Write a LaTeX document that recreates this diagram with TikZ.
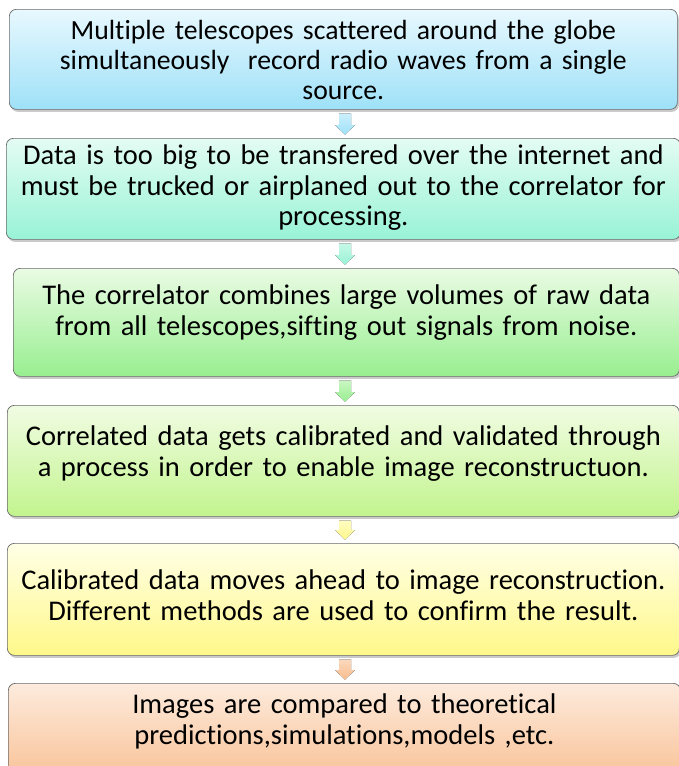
\documentclass[tikz,border=0pt]{standalone}
\usepackage{fontspec}
\setmainfont{Carlito}[Ligatures={NoCommon}]
\usetikzlibrary{calc,shadows}
\definecolor{bAt}{HTML}{E8F8FE}\definecolor{bAb}{HTML}{9EE1F8}
\definecolor{bBt}{HTML}{E4FCF3}\definecolor{bBb}{HTML}{98F3D6}
\definecolor{bCt}{HTML}{EAFBE4}\definecolor{bCb}{HTML}{98EF90}
\definecolor{bDt}{HTML}{F1FCE3}\definecolor{bDb}{HTML}{C2F48E}
\definecolor{bEt}{HTML}{FFFFE6}\definecolor{bEb}{HTML}{FFF88A}
\definecolor{bFt}{HTML}{FDEBDD}\definecolor{bFb}{HTML}{F8BC8C}
\definecolor{edge}{HTML}{6A6A6A}
\tikzset{
  stepbox/.style={draw=edge, line width=0.7pt, rounded corners=7pt,
    anchor=north west, inner sep=0pt,
    drop shadow={shadow xshift=1.5pt, shadow yshift=-2.5pt, opacity=0.35, fill=black!60}},
  steptext/.style={anchor=north, align=center, inner sep=0pt, text width=670,
    font=\fontsize{28.5}{30.5}\selectfont},
}
\newcommand\blockarrow[4]{%
  \fill[top color=#3, bottom color=#4]
    ($(#1)+(-6pt,-4pt)$) -- ($(#1)+(6pt,-4pt)$) -- ($(#2)+(6pt,13pt)$) --
    ($(#2)+(10pt,13pt)$) -- ($(#2)+(0pt,3.5pt)$) -- ($(#2)+(-10pt,13pt)$) --
    ($(#2)+(-6pt,13pt)$) -- cycle;}
\begin{document}
\begin{tikzpicture}[x=1pt,y=-1pt]
\useasboundingbox (0,0) rectangle (678,766);
\node[stepbox, top color=bAt, bottom color=bAb, minimum width=668, minimum height=100] (b1) at (9,9) {};
\node[stepbox, top color=bBt, bottom color=bBb, minimum width=674, minimum height=101] (b2) at (6,138) {};
\node[stepbox, top color=bCt, bottom color=bCb, minimum width=666, minimum height=108] (b3) at (13,268) {};
\node[stepbox, top color=bDt, bottom color=bDb, minimum width=672, minimum height=111] (b4) at (7,405) {};
\node[stepbox, top color=bEt, bottom color=bEb, minimum width=672, minimum height=112] (b5) at (7,543) {};
\node[stepbox, top color=bFt, bottom color=bFb, minimum width=672, minimum height=110] (b6) at (8,683) {};
\node[steptext, font=\fontsize{27.7}{29.8}\selectfont] (t1) at ($(b1.north)+(0,11)$)
 {Multiple telescopes scattered around the globe\\simultaneously\ \ record radio waves from a single\\source.};
\node[steptext] (t2) at ($(b2.north)+(0,7)$)
 {Data is too big to be transfered over the internet and\\must be trucked or airplaned out to the correlator for\\processing.};
\node[steptext] (t3) at ($(b3.north)+(0,17)$)
 {The correlator combines large volumes of raw data\\from all telescopes,sifting out signals from noise.};
\node[steptext] (t4) at ($(b4.north)+(0,21)$)
 {Correlated data gets calibrated and validated through\\a process in order to enable image reconstructuon.};
\node[steptext] (t5) at ($(b5.north)+(0,27)$)
 {Calibrated data moves ahead to image reconstruction.\\Different methods are used to confirm the result.};
\node[steptext] (t6) at ($(b6.north)+(0,11)$)
 {Images are compared to theoretical\\predictions,simulations,models ,etc.};
\coordinate (ax) at (345,0);
\coordinate (s1) at (b1.south -| ax); \coordinate (n2) at (b2.north -| ax);
\coordinate (s2) at (b2.south -| ax); \coordinate (n3) at (b3.north -| ax);
\coordinate (s3) at (b3.south -| ax); \coordinate (n4) at (b4.north -| ax);
\coordinate (s4) at (b4.south -| ax); \coordinate (n5) at (b5.north -| ax);
\coordinate (s5) at (b5.south -| ax); \coordinate (n6) at (b6.north -| ax);
\blockarrow{s1}{n2}{bAt!60!bAb}{bAb}
\blockarrow{s2}{n3}{bBt!60!bBb}{bBb}
\blockarrow{s3}{n4}{bCt!60!bCb}{bCb}
\blockarrow{s4}{n5}{bEt!60!bEb}{bEb}
\blockarrow{s5}{n6}{bFt!60!bFb}{bFb}
\end{tikzpicture}
\end{document}
